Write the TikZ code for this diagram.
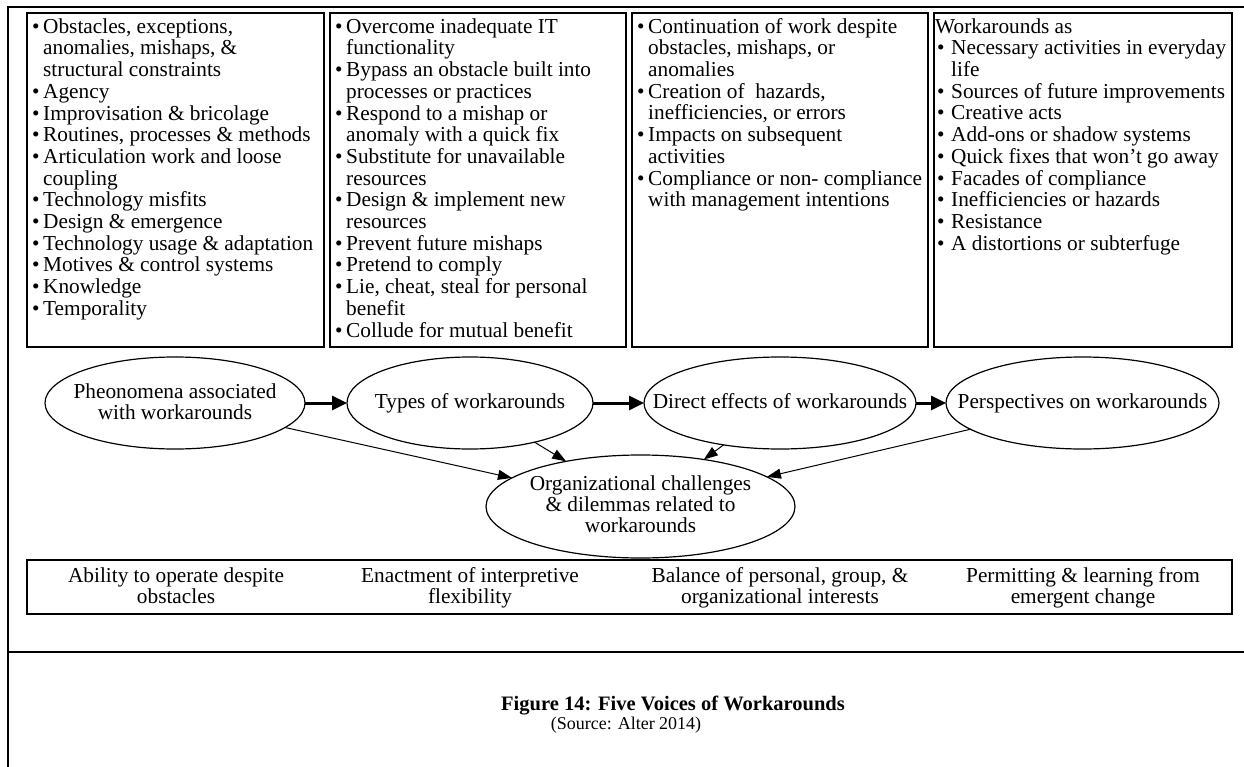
\documentclass[tikz,border=0pt]{standalone}
\usepackage{fontspec}
\setmainfont{Liberation Serif}
\usetikzlibrary{arrows.meta,shapes.geometric}
\newcommand\fs{\fontsize{21.3pt}{21.7pt}\selectfont}
\newcommand\fc{\fontsize{21.3pt}{21pt}\selectfont}
\newcommand\bl{\makebox[11pt][l]{•}}
\newcommand\blw{\hspace*{2pt}\makebox[14pt][l]{•}}
\newcommand\ind{\hspace*{11pt}}
\newcommand\indw{\hspace*{16pt}}
\newcommand\st{\rule{0pt}{15pt}}
\begin{document}
\begin{tikzpicture}[x=1pt,y=-1pt,
  box/.style={draw,line width=1.3pt,outer sep=0pt,inner sep=0pt,anchor=north west},
  ell/.style={draw,ellipse,line width=1.2pt,inner sep=0pt,outer sep=0pt},
  txt/.style={inner sep=0pt,anchor=north west,align=left,font=\fs},
  ctxt/.style={inner sep=0pt,anchor=north,align=center,font=\fc},
  big/.style={-{Triangle[length=15pt,width=14pt]},line width=3pt},
  thin/.style={-{Triangle[length=14pt,width=10pt]},line width=1pt},
  frame/.style={line width=2.5pt}]
\useasboundingbox (0,0) rectangle (1244,767);
% outer frame
\draw[frame] (8,767) -- (8,7) -- (1244,7);
\draw[frame] (8,652) -- (1244,652);
% top boxes
\node[box,minimum width=297,minimum height=334] (b1) at (27,13) {};
\node[box,minimum width=296,minimum height=334] (b2) at (330,13) {};
\node[box,minimum width=296,minimum height=334] (b3) at (632,13) {};
\node[box,minimum width=298,minimum height=334] (b4) at (934,13) {};
\node[txt] (t1) at (32,18) {\st\bl Obstacles, exceptions,\\
\ind anomalies, mishaps, \&\\
\ind structural constraints\\
\bl Agency\\
\bl Improvisation \& bricolage\\
\bl Routines, processes \& methods\\
\bl Articulation work and loose\\
\ind coupling\\
\bl Technology misfits\\
\bl Design \& emergence\\
\bl Technology usage \& adaptation\\
\bl Motives \& control systems\\
\bl Knowledge\\
\bl Temporality};
\node[txt] (t2) at (335,18) {\st\bl Overcome inadequate IT\\
\ind functionality\\
\bl Bypass an obstacle built into\\
\ind processes or practices\\
\bl Respond to a mishap or\\
\ind anomaly with a quick fix\\
\bl Substitute for unavailable\\
\ind resources\\
\bl Design \& implement new\\
\ind resources\\
\bl Prevent future mishaps\\
\bl Pretend to comply\\
\bl Lie, cheat, steal for personal\\
\ind benefit\\
\bl Collude for mutual benefit};
\node[txt] (t3) at (637,18) {\st\bl Continuation of work despite\\
\ind obstacles, mishaps, or\\
\ind anomalies\\
\bl Creation of\ \ hazards,\\
\ind inefficiencies, or errors\\
\bl Impacts on subsequent\\
\ind activities\\
\bl Compliance or non- compliance\\
\ind with management intentions};
\node[txt] (t4) at (935,18) {\st Workarounds as\\
\blw Necessary activities in everyday\\
\indw life\\
\blw Sources of future improvements\\
\blw Creative acts\\
\blw Add-ons or shadow systems\\
\blw Quick fixes that won’t go away\\
\blw Facades of compliance\\
\blw Inefficiencies or hazards\\
\blw Resistance\\
\blw A distortions or subterfuge};
% ellipses
\node[ell,minimum width=260,minimum height=92] (e1) at (175,403) {};
\node[ell,minimum width=246,minimum height=92] (e2) at (470,403) {};
\node[ell,minimum width=272,minimum height=92] (e3) at (780,403) {};
\node[ell,minimum width=273,minimum height=92] (e4) at (1082.5,403) {};
\node[ell,minimum width=309,minimum height=103] (e5) at (640.5,506.5) {};
\node[ctxt] (l1) at (175,383) {\st Pheonomena associated\\with workarounds};
\node[ctxt] (l2) at (470,393) {\st Types of workarounds};
\node[ctxt] (l3) at (780,393) {\st Direct effects of workarounds};
\node[ctxt] (l4) at (1082.5,393) {\st Perspectives on workarounds};
\node[ctxt] (l5) at (640.5,475) {\st Organizational challenges\\\& dilemmas related to\\workarounds};
% arrows
\draw[big] (e1) -- (e2);
\draw[big] (e2) -- (e3);
\draw[big] (e3) -- (e4);
\draw[thin] (e1) -- (e5);
\draw[thin] (e2) -- (e5);
\draw[thin] (e3) -- (e5);
\draw[thin] (e4) -- (e5);
% bottom box
\node[box,minimum width=1205,minimum height=54] (bb) at (27,560) {};
\node[ctxt] (v1) at (176,567) {\st Ability to operate despite\\obstacles};
\node[ctxt] (v2) at (470,567) {\st Enactment of interpretive\\flexibility};
\node[ctxt] (v3) at (780,567) {\st Balance of personal, group, \&\\organizational interests};
\node[ctxt] (v4) at (1083,567) {\st Permitting \& learning from\\emergent change};
% caption
\node[inner sep=0pt,anchor=base,font=\fontsize{20.5pt}{22pt}\selectfont\bfseries] (cap) at (673,710) {Figure 14: Five Voices of Workarounds};
\node[inner sep=0pt,anchor=base,font=\fontsize{18pt}{20pt}\selectfont] (src) at (626,729) {(Source: Alter 2014)};
\end{tikzpicture}
\end{document}
